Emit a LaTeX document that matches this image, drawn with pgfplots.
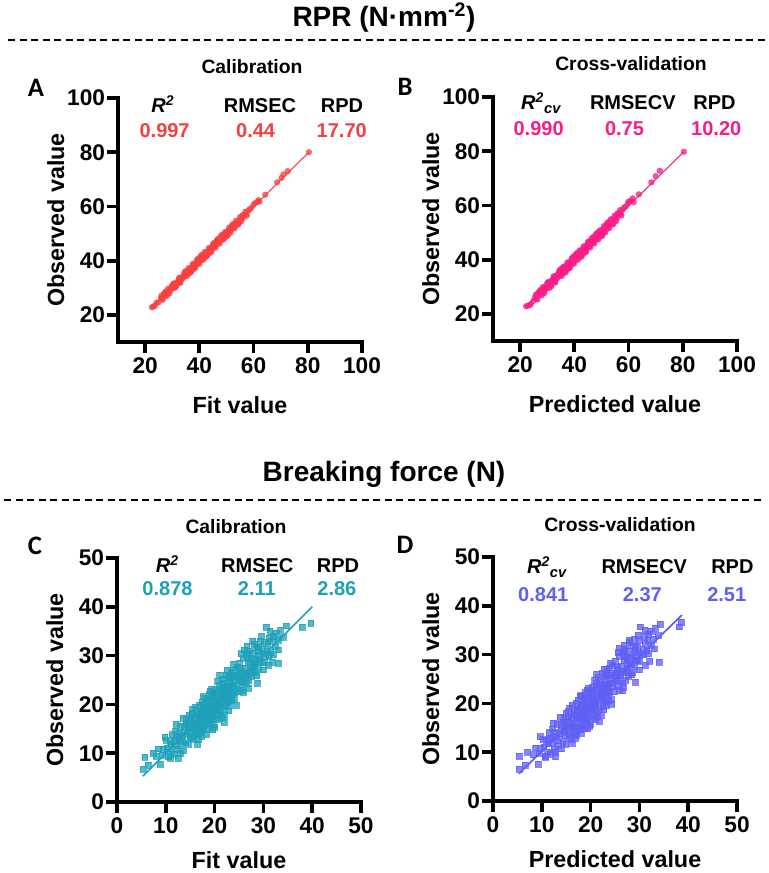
\documentclass[border=0pt]{standalone}
\usepackage{fontspec}
\setmainfont{Liberation Sans}
\newfontfamily\calibri{Carlito}
\usepackage{pgfplots}
\pgfplotsset{compat=1.18}
\usepackage{pgfplotstable}

\definecolor{cA}{RGB}{245,64,64}
\definecolor{cB}{RGB}{250,28,135}
\definecolor{cC}{RGB}{30,160,185}
\definecolor{cD}{RGB}{95,95,245}

\newcommand{\fs}[1]{\fontsize{#1}{#1}\selectfont\bfseries}

\pgfplotstableread{
x y
22.5 22.8
23.0 23.1
23.6 23.3
24.2 24.5
25.0 24.6
25.8 26.1
26.3 26.0
26.9 27.4
27.4 27.1
27.8 28.2
28.3 28.0
28.7 29.1
29.1 28.8
29.5 29.9
29.9 29.6
30.2 30.5
30.6 30.3
31.0 31.4
31.3 30.9
31.7 32.0
32.0 31.7
32.3 32.8
32.6 32.3
32.9 33.2
33.2 32.8
33.5 33.9
33.8 33.5
34.1 34.5
34.4 34.0
34.7 35.0
35.0 34.6
35.3 35.7
35.6 35.3
35.9 36.3
36.2 35.8
36.5 36.9
36.8 36.4
37.1 37.5
37.4 37.0
37.7 38.1
38.0 37.6
38.3 38.7
38.6 38.2
38.9 39.3
39.2 38.8
39.5 39.9
39.8 39.4
40.1 40.5
40.4 40.0
40.7 41.1
41.0 40.6
41.3 41.7
41.6 41.2
41.9 42.3
42.2 41.8
42.5 42.9
42.8 42.4
43.1 43.5
43.4 43.0
43.7 44.1
44.0 43.6
44.3 44.7
44.6 44.2
44.9 45.3
45.2 44.8
45.5 45.9
45.8 45.4
46.1 46.5
46.4 46.0
46.7 47.1
47.0 46.6
47.3 47.7
47.6 47.2
47.9 48.3
48.2 47.8
48.5 48.9
48.8 48.4
49.1 49.5
49.4 49.0
49.7 50.1
50.0 49.6
50.3 50.7
50.6 50.2
50.9 51.3
51.2 50.8
51.6 51.9
52.0 51.6
52.4 52.8
52.8 52.4
53.2 53.6
53.7 53.3
54.2 54.6
54.8 54.4
55.4 55.7
56.0 55.7
56.5 56.9
57.2 57.0
58.0 58.3
60.5 61.2
61.3 61.6
62.2 61.8
64.3 64.3
68.7 68.9
70.3 70.5
71.0 71.8
72.6 73.0
80.4 80.0
35.0 36.2
38.0 36.9
41.0 42.2
44.0 42.9
47.0 48.1
30.0 31.0
33.0 32.2
50.0 48.9
52.0 53.0
45.0 46.1
39.0 40.1
42.5 41.4
36.5 35.5
48.5 49.6
27.0 27.9
31.5 30.6
54.0 53.3
56.0 56.8
26.0 27.1
26.5 25.6
27.5 28.6
28.0 27.0
28.5 29.7
29.0 27.9
30.5 31.6
31.0 29.9
32.5 33.7
33.0 31.8
34.5 35.7
35.5 34.3
36.0 37.2
37.0 35.8
37.5 38.8
38.5 37.3
39.5 40.8
40.0 38.8
40.5 41.7
41.5 40.3
42.0 43.2
43.0 41.8
43.5 44.7
44.5 43.3
45.5 46.6
46.0 44.8
46.5 47.7
47.5 46.3
48.0 49.2
49.0 47.8
49.5 50.6
50.5 49.3
51.0 52.2
51.5 50.3
52.5 53.6
53.0 51.9
53.5 54.7
54.5 53.4
55.0 56.1
55.5 54.5
57.0 58.1
57.5 56.6
58.5 59.0
59.2 59.4
60.0 60.6
61.8 62.3
}\dataA

\pgfplotstableread{
x y
22.2 22.8
22.8 23.0
23.5 23.2
24.0 23.6
24.9 24.8
25.5 26.2
26.1 25.6
26.6 27.6
27.2 26.9
27.6 28.4
28.1 27.7
28.5 29.3
29.0 28.6
29.4 30.1
29.8 29.3
30.1 30.8
30.5 30.0
30.9 31.6
31.2 30.7
31.6 32.3
31.9 31.4
32.2 33.0
32.5 32.1
32.8 33.6
33.1 32.6
33.4 34.2
33.7 33.2
34.0 34.8
34.3 33.8
34.6 35.3
34.9 34.3
35.2 36.0
35.5 35.0
35.8 36.6
36.1 35.5
36.4 37.2
36.7 36.1
37.0 37.8
37.3 36.7
37.6 38.4
37.9 37.3
38.2 39.0
38.5 37.9
38.8 39.6
39.1 38.5
39.4 40.2
39.7 39.1
40.0 40.8
40.3 39.7
40.6 41.4
40.9 40.3
41.2 42.0
41.5 40.9
41.8 42.6
42.1 41.5
42.4 43.2
42.7 42.1
43.0 43.8
43.3 42.7
43.6 44.4
43.9 43.3
44.2 45.0
44.5 43.9
44.8 45.6
45.1 44.5
45.4 46.2
45.7 45.1
46.0 46.8
46.3 45.7
46.6 47.4
46.9 46.3
47.2 48.0
47.5 46.9
47.8 48.6
48.1 47.5
48.4 49.2
48.7 48.1
49.0 49.8
49.3 48.7
49.6 50.4
49.9 49.3
50.2 51.0
50.5 49.9
50.8 51.6
51.1 50.5
51.5 52.2
51.9 51.2
52.3 53.0
52.7 52.1
53.1 53.9
53.6 53.0
54.1 54.9
54.7 54.0
55.3 56.0
55.9 55.4
56.5 57.3
57.1 56.7
57.9 58.5
60.0 61.4
60.9 61.8
61.9 61.2
63.8 64.1
68.4 68.5
70.0 70.8
71.5 72.8
80.4 79.8
35.0 36.6
38.0 36.7
41.0 42.5
44.0 42.6
47.0 48.4
30.0 31.4
33.0 31.9
50.0 48.6
52.0 53.3
45.0 46.5
39.0 40.4
42.5 41.0
36.5 35.2
48.5 50.0
27.0 28.2
31.5 30.2
54.0 53.0
56.0 57.1
25.8 27.1
26.4 25.3
27.4 28.8
27.9 26.8
28.4 29.9
28.9 27.6
30.4 31.8
30.9 29.6
32.4 33.9
32.9 31.5
34.4 35.9
35.4 34.0
35.9 37.4
36.9 35.5
37.4 39.0
38.4 37.0
39.4 41.0
39.9 38.5
40.4 41.9
41.4 40.0
41.9 43.4
42.9 41.5
43.4 44.9
44.4 43.0
45.4 46.8
45.9 44.5
46.4 47.9
47.4 46.0
47.9 49.4
48.9 47.5
49.4 50.8
50.4 49.0
50.9 52.4
51.4 50.0
52.4 53.8
52.9 51.6
53.4 54.9
54.4 53.1
54.9 56.3
55.4 54.2
56.9 58.3
57.4 56.3
58.4 59.3
59.0 59.6
59.8 60.9
61.5 62.6
}\dataB

\pgfplotstableread{
x y
5.3 6.7
5.7 9.2
6.4 7.5
7.4 10.0
8.0 9.4
8.9 7.8
9.3 9.6
9.8 13.3
10.2 11.0
10.5 9.3
10.8 12.4
11.0 10.2
11.3 13.8
11.5 9.8
11.8 11.6
12.0 14.6
12.3 10.8
12.5 9.0
12.7 12.9
13.0 15.5
13.2 11.7
13.4 13.6
13.6 10.5
13.8 14.4
14.0 12.2
14.1 16.0
14.3 13.9
14.5 15.2
14.6 11.8
14.8 17.8
15.0 14.3
15.1 16.6
15.3 13.2
15.4 18.2
15.6 15.4
15.7 12.9
15.9 17.0
16.0 14.9
16.1 19.4
16.2 16.2
16.4 13.8
16.5 18.1
16.6 12.8
16.7 15.6
16.8 17.3
16.9 19.8
17.0 14.6
17.1 16.7
17.2 18.6
17.3 15.2
17.4 20.5
17.5 17.4
17.6 14.9
17.7 19.0
17.8 16.3
17.9 18.0
18.0 21.3
18.1 15.7
18.2 17.8
18.3 19.5
18.4 16.8
18.5 20.2
18.6 15.1
18.7 18.4
18.8 22.0
18.9 17.0
19.0 19.3
19.1 16.2
19.2 20.8
19.3 18.1
19.4 21.7
19.5 17.5
19.6 19.9
19.7 15.9
19.8 22.4
19.9 18.7
20.0 20.6
20.1 17.2
20.2 21.9
20.3 19.1
20.4 23.2
20.5 18.0
20.6 20.3
20.7 22.6
20.8 16.9
20.9 19.7
21.0 24.0
21.1 21.2
21.2 18.5
21.3 22.9
21.4 20.1
21.5 25.1
21.6 19.0
21.7 23.5
21.8 21.6
21.9 17.8
22.0 24.4
22.1 20.7
22.2 22.8
22.3 19.6
22.4 26.0
22.5 21.9
22.6 23.8
22.7 20.4
22.8 25.3
22.9 22.3
23.0 19.9
23.1 24.7
23.2 21.4
23.3 26.6
23.4 23.0
23.5 20.9
23.6 25.6
23.7 22.1
23.8 27.1
23.9 24.0
24.0 21.0
24.2 26.0
24.4 23.2
24.6 27.6
24.8 22.6
25.0 25.2
25.1 28.4
25.3 23.9
25.5 26.8
25.6 22.9
25.8 22.5
25.9 29.4
26.0 25.6
26.1 31.2
26.2 27.5
26.4 24.3
26.5 30.3
26.6 26.4
26.8 28.7
27.0 24.9
27.1 31.0
27.3 27.1
27.4 29.5
27.6 25.8
27.8 30.5
28.0 27.9
28.1 32.3
28.3 26.5
28.5 29.2
28.6 31.6
28.8 24.3
28.9 27.4
29.1 30.1
29.3 33.0
29.5 28.6
29.7 31.4
29.9 27.1
30.1 32.7
30.3 29.9
30.5 35.8
30.7 31.0
31.0 28.0
31.2 33.6
31.5 30.6
31.9 28.6
32.1 34.0
32.4 31.8
32.6 34.6
33.1 28.5
33.1 31.2
33.5 35.2
34.0 33.7
34.6 36.1
37.9 35.8
39.7 36.6
15.2 17.1
16.8 14.2
18.4 21.0
19.6 14.8
20.6 24.8
21.9 16.3
17.3 13.5
14.2 16.9
13.1 12.4
12.2 13.3
11.1 11.8
10.0 12.6
9.5 10.8
8.4 10.9
10.9 8.9
12.9 10.0
14.9 13.4
16.3 17.7
17.9 19.9
18.9 20.9
19.4 16.9
20.2 18.8
21.3 20.8
22.4 23.4
23.3 22.1
24.3 24.9
25.2 27.4
26.3 26.2
27.2 28.4
28.2 29.3
29.0 31.7
30.0 30.5
30.9 32.3
31.6 33.0
32.0 30.2
33.0 33.2
27.7 27.0
26.7 29.8
25.7 24.6
24.7 25.8
23.7 23.9
22.7 21.2
21.7 22.1
20.7 21.3
19.8 19.0
18.8 17.5
17.8 17.2
16.8 16.0
15.8 14.0
14.8 15.8
13.8 15.6
12.8 14.2
11.8 12.7
16.1 15.2
17.1 18.1
18.1 18.9
19.1 18.2
20.1 19.6
21.1 19.7
22.1 22.2
23.1 23.5
24.1 22.4
25.1 26.1
26.1 24.8
27.1 26.3
28.1 28.1
29.1 28.9
30.1 28.6
31.1 30.0
19.4 23.2
21.5 17.3
23.9 28.3
25.4 30.4
22.6 27.0
17.7 21.6
15.5 19.1
18.3 13.9
20.0 15.3
24.5 19.9
26.9 23.3
28.6 25.9
29.6 34.0
31.3 35.0
27.8 33.0
16.5 11.9
13.5 17.2
12.1 16.0
21.0 26.0
23.0 25.8
19.0 22.8
17.0 18.6
22.9 18.7
26.6 32.0
28.9 30.9
}\dataC

\pgfplotstableread{
x y
5.4 6.5
5.4 9.2
6.6 7.4
7.1 10.0
8.2 9.5
9.3 7.6
9.5 9.8
9.7 13.2
10.4 11.1
10.8 9.2
11.0 12.5
11.2 10.0
11.5 14.0
11.7 9.6
12.0 11.8
12.2 14.8
12.5 10.6
12.8 9.1
12.9 13.1
13.2 15.7
13.4 11.5
13.6 13.8
13.9 10.7
14.0 14.6
14.3 12.0
14.3 16.2
14.6 14.1
14.7 15.0
14.9 11.6
14.9 18.0
15.2 14.5
15.3 16.4
15.6 13.0
15.5 18.4
15.8 15.2
16.0 12.7
16.0 17.2
16.2 15.1
16.2 19.6
16.4 16.0
16.6 13.6
16.6 18.3
16.9 12.9
16.9 15.4
17.0 17.5
17.0 20.0
17.2 14.4
17.3 16.9
17.3 18.8
17.5 15.0
17.5 20.7
17.7 17.6
17.8 14.7
17.8 19.2
18.0 16.1
18.0 18.2
18.1 21.5
18.3 15.5
18.3 17.6
18.4 19.7
18.6 16.6
18.6 20.4
18.8 14.9
18.8 18.6
18.9 22.2
19.1 16.8
19.1 19.5
19.3 16.0
19.3 21.0
19.5 17.9
19.5 21.9
19.7 17.3
19.7 20.1
19.9 15.7
19.9 22.6
20.1 18.5
20.1 20.8
20.3 17.0
20.3 22.1
20.5 18.9
20.4 23.4
20.7 17.8
20.7 20.5
20.8 22.8
21.0 16.7
21.0 19.9
21.1 24.2
21.2 21.4
21.4 18.3
21.4 23.1
21.6 20.3
21.5 25.3
21.8 18.8
21.7 23.7
21.9 21.8
22.1 17.6
22.0 24.6
22.3 20.9
22.3 23.0
22.5 19.4
22.4 26.2
22.7 22.1
22.7 24.0
22.9 20.2
22.8 25.5
23.0 22.5
23.2 19.7
23.1 24.9
23.4 21.6
23.3 26.8
23.5 23.2
23.7 20.7
23.6 25.8
23.8 22.3
23.8 27.3
24.0 24.2
24.2 20.8
24.2 26.2
24.5 23.4
24.5 27.8
24.9 22.4
25.0 25.4
25.0 28.6
25.4 23.7
25.5 27.0
25.8 22.7
26.5 22.6
25.8 29.6
26.1 25.8
25.9 31.3
26.3 27.7
26.6 24.1
26.4 30.5
26.7 26.6
26.8 28.9
27.2 24.7
27.0 31.2
27.4 27.3
27.3 29.7
27.8 25.6
27.7 30.7
28.1 28.1
27.9 32.5
28.5 26.3
28.5 29.4
28.4 31.8
29.2 24.4
29.0 27.6
29.0 30.3
29.0 33.2
29.5 28.8
29.6 31.6
30.0 26.9
30.0 32.9
30.3 30.1
30.1 35.7
30.7 31.2
31.2 27.8
31.0 33.8
31.5 30.8
32.1 28.6
31.9 34.2
32.4 32.0
32.4 34.8
34.0 28.4
33.1 31.2
33.3 35.4
33.8 33.9
34.2 36.2
38.1 35.7
38.6 36.7
15.5 17.1
16.6 14.2
18.6 21.0
19.4 14.8
20.8 24.8
21.7 16.3
17.1 13.5
14.5 16.9
13.3 12.4
12.4 13.3
11.3 11.8
10.3 12.6
9.7 10.8
8.7 10.9
10.7 8.9
12.7 10.0
14.7 13.4
16.5 17.7
18.1 19.9
19.1 20.9
19.2 16.9
20.0 18.8
21.1 20.8
22.6 23.4
23.1 22.1
24.5 24.9
25.4 27.4
26.1 26.2
27.4 28.4
28.0 29.3
29.2 31.7
29.8 30.5
31.1 32.3
31.7 33.0
31.8 30.2
32.9 33.2
27.5 27.0
26.9 29.8
25.5 24.6
24.9 25.8
23.5 23.9
22.5 21.2
21.9 22.1
20.5 21.3
19.6 19.0
18.6 17.5
17.6 17.2
16.6 16.0
15.6 14.0
15.0 15.8
14.0 15.6
12.6 14.2
11.6 12.7
16.3 15.2
17.3 18.1
17.9 18.9
18.9 18.2
20.3 19.6
20.9 19.7
22.3 22.2
23.3 23.5
23.9 22.4
25.3 26.1
25.9 24.8
26.9 26.3
28.3 28.1
29.3 28.9
29.9 28.6
30.9 30.0
19.6 23.2
21.3 17.3
24.1 28.3
25.6 30.4
22.8 27.0
17.9 21.6
15.7 19.1
18.1 13.9
19.8 15.3
24.3 19.9
26.7 23.3
28.4 25.9
29.8 34.0
31.1 35.0
28.0 33.0
16.3 11.9
13.7 17.2
12.3 16.0
21.2 26.0
23.2 25.8
19.2 22.8
17.2 18.6
22.7 18.7
26.8 32.0
29.1 30.9
}\dataD

\tikzset{ann/.style={anchor=base, font=\fs{15}}}

\pgfplotsset{
  panel/.style={
    scale only axis, width=183pt, height=183pt, anchor=south west,
    axis lines=left,
    axis line style={-, line width=2.8pt, line cap=rect},
    tick align=outside, major tick length=8pt,
    every tick/.style={black, line width=2.8pt},
    xticklabel style={font=\fs{17}},
    yticklabel style={font=\fs{17}, inner xsep=1.5pt},
    /pgf/number format/assume math mode=true,
    xlabel style={font=\fs{17.5}, anchor=center},
    ylabel style={font=\fs{17.5}, at={(axis description cs:-0.255,0.5)}, anchor=center},
    ylabel={Observed value},
    clip=false,
  },
  rpr/.style={xmin=10, xmax=100, ymin=10, ymax=100,
    xtick={20,40,60,80,100}, ytick={20,40,60,80,100},
    xlabel style={at={(axis description cs:0.5,-0.258)}}},
  bf/.style={xmin=0, xmax=50, ymin=0, ymax=50,
    xtick={0,10,20,30,40,50}, ytick={0,10,20,30,40,50},
    xlabel style={at={(axis description cs:0.5,-0.238)}}},
}

\begin{document}
\begin{tikzpicture}
\useasboundingbox (0,0) rectangle (576pt,654.75pt);

% section headers
\node[font=\fs{21}] at (288pt,641.25pt) {RPR (N·mm\textsuperscript{-2})};
\draw[line width=1.1pt, dash pattern=on 5.25pt off 3.4pt] (6pt,624.75pt) -- (576pt,624.75pt);
\node[font=\fs{21}] at (288pt,299.25pt) {Breaking force (N)};
\draw[line width=1.1pt, dash pattern=on 5.25pt off 3.4pt] (3pt,279.75pt) -- (571pt,279.75pt);

% panel titles
\node[font=\fs{14.5}] at (189pt,604.5pt) {Calibration};
\node[font=\fs{14.5}] at (473.25pt,606.75pt) {Cross-validation};
\node[font=\fs{14.5}] at (177pt,259.5pt) {Calibration};
\node[font=\fs{14.5}] at (465pt,261pt) {Cross-validation};

% panel letters
\node[font=\calibri\bfseries\fontsize{20}{20}\selectfont] at (27pt,588.75pt) {A};
\node[font=\calibri\bfseries\fontsize{20}{20}\selectfont] at (303.75pt,589.5pt) {B};
\node[font=\calibri\bfseries\fontsize{20}{20}\selectfont] at (26.25pt,245.25pt) {C};
\node[font=\calibri\bfseries\fontsize{20}{20}\selectfont] at (303.75pt,246pt) {D};

% ---------- A ----------
\begin{axis}[panel, rpr, at={(88.5pt,398.25pt)}, xlabel={Fit value}]
\addplot[only marks, mark=*, mark size=2.1pt, color=cA, opacity=0.75, mark options={draw=none, fill=cA}] table {\dataA};
\addplot[cA, line width=0.8pt] coordinates {(22.5,22.8) (80.4,80.0)};
\node[ann] at (rel axis cs:0.184,0.94) {\textit{R\textsuperscript{2}}};
\node[ann] at (rel axis cs:0.582,0.94) {RMSEC};
\node[ann] at (rel axis cs:0.918,0.94) {RPD};
\node[ann, text=cA] at (rel axis cs:0.191,0.84) {0.997};
\node[ann, text=cA] at (rel axis cs:0.564,0.84) {0.44};
\node[ann, text=cA] at (rel axis cs:0.917,0.84) {17.70};
\end{axis}

% ---------- B ----------
\begin{axis}[panel, rpr, at={(369.75pt,399pt)}, xlabel={Predicted value}]
\addplot[only marks, mark=*, mark size=2.1pt, color=cB, opacity=0.75, mark options={draw=none, fill=cB}] table {\dataB};
\addplot[cB, line width=0.8pt] coordinates {(22.2,22.8) (80.4,79.8)};
\node[ann] at (rel axis cs:0.196,0.95) {\textit{R\textsuperscript{2}\raisebox{-3pt}{\fontsize{11}{11}\selectfont cv}}};
\node[ann] at (rel axis cs:0.573,0.95) {RMSECV};
\node[ann] at (rel axis cs:0.908,0.95) {RPD};
\node[ann, text=cB] at (rel axis cs:0.187,0.843) {0.990};
\node[ann, text=cB] at (rel axis cs:0.539,0.843) {0.75};
\node[ann, text=cB] at (rel axis cs:0.915,0.843) {10.20};
\end{axis}

% ---------- C ----------
\begin{axis}[panel, bf, at={(87.75pt,53.25pt)}, xlabel={Fit value}]
\addplot[only marks, mark=square*, mark size=2.2pt, color=cC, opacity=0.75, mark options={draw=none, fill=cC}] table {\dataC};
\addplot[cC, line width=1.3pt] coordinates {(5.3,5.3) (40,40)};
\node[ann] at (rel axis cs:0.206,0.939) {\textit{R\textsuperscript{2}}};
\node[ann] at (rel axis cs:0.575,0.939) {RMSEC};
\node[ann] at (rel axis cs:0.906,0.939) {RPD};
\node[ann, text=cC] at (rel axis cs:0.207,0.845) {0.878};
\node[ann, text=cC] at (rel axis cs:0.573,0.845) {2.11};
\node[ann, text=cC] at (rel axis cs:0.901,0.845) {2.86};
\end{axis}

% ---------- D ----------
\begin{axis}[panel, bf, at={(369.75pt,54pt)}, xlabel={Predicted value}]
\addplot[only marks, mark=square*, mark size=2.2pt, color=cD, opacity=0.75, mark options={draw=none, fill=cD}] table {\dataD};
\addplot[cD, line width=1.3pt] coordinates {(5.3,5.6) (38.7,38.1)};
\node[ann] at (rel axis cs:0.22,0.934) {\textit{R\textsuperscript{2}\raisebox{-3pt}{\fontsize{11}{11}\selectfont cv}}};
\node[ann] at (rel axis cs:0.62,0.934) {RMSECV};
\node[ann] at (rel axis cs:0.981,0.934) {RPD};
\node[ann, text=cD] at (rel axis cs:0.206,0.818) {0.841};
\node[ann, text=cD] at (rel axis cs:0.612,0.818) {2.37};
\node[ann, text=cD] at (rel axis cs:0.958,0.818) {2.51};
\end{axis}
\end{tikzpicture}
\end{document}
